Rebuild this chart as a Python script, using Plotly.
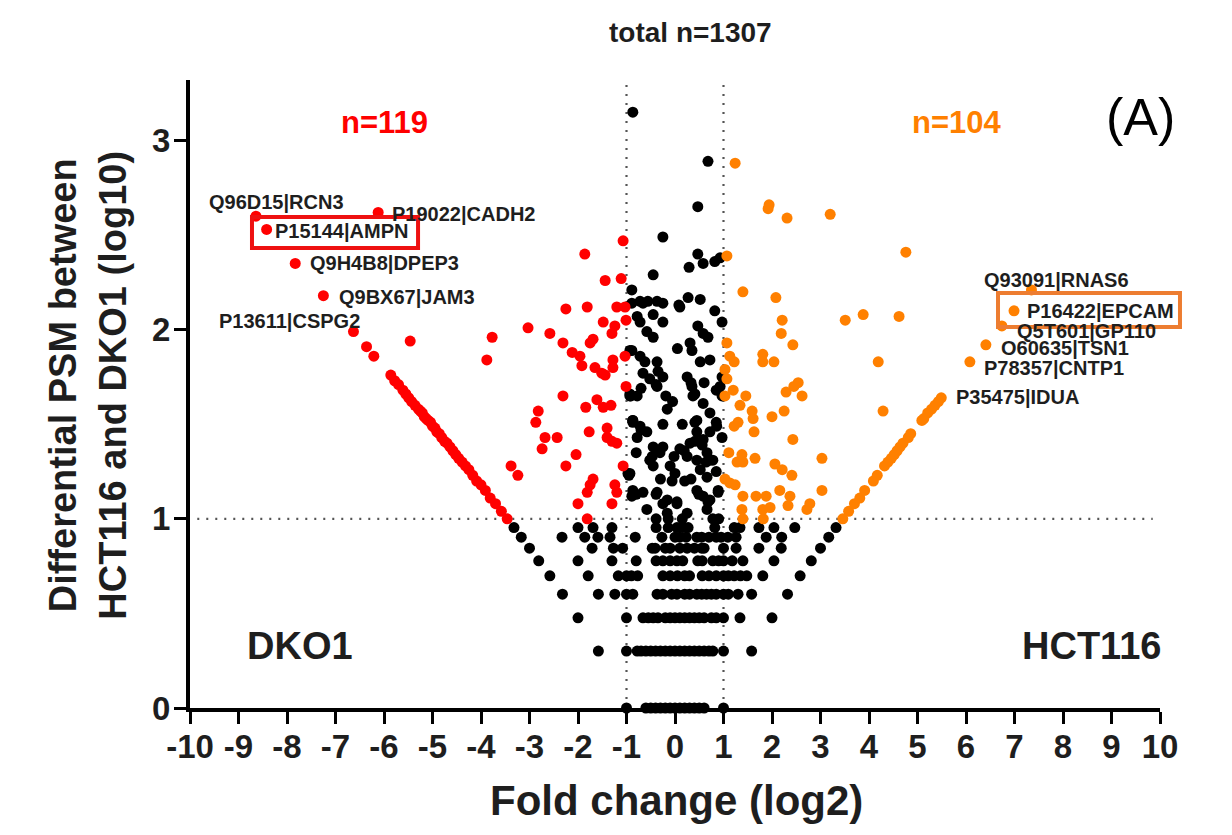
import plotly.graph_objects as go

# ---------------- data ----------------
# black points below the y=1 threshold: discrete y levels and the x positions on each level
low_levels = [0.0, 0.301, 0.477, 0.602, 0.699, 0.778, 0.845, 0.903, 0.954, 1.0]
low_rows_x = [
    [-1.0, -0.6, -0.5, -0.4, -0.3, -0.2, -0.1, 0.0, 0.1, 0.2, 0.3, 0.4, 0.5, 0.6, 1.0],
    [-1.58, -1.0, -0.78, -0.7, -0.6, -0.5, -0.4, -0.3, -0.2, -0.1, 0.0, 0.1, 0.2, 0.3, 0.4, 0.5, 0.6, 0.7, 0.78, 1.0, 1.58],
    [-2.0, -1.0, -0.66, -0.55, -0.45, -0.35, -0.2, -0.1, 0.0, 0.1, 0.2, 0.3, 0.4, 0.5, 0.6, 0.75, 0.85, 1.0, 1.34, 2.0],
    [-2.32, -1.58, -1.24, -1.0, -0.87, -0.37, -0.25, -0.07, 0.04, 0.2, 0.3, 0.45, 0.55, 0.65, 0.75, 0.85, 1.0, 1.1, 1.3, 1.58, 2.32],
    [-2.58, -1.79, -1.17, -1.0, -0.9, -0.77, -0.25, -0.1, 0.05, 0.2, 0.3, 0.56, 0.7, 0.85, 1.0, 1.1, 1.22, 1.35, 1.48, 1.81, 2.58],
    [-2.81, -2.0, -1.3, -0.8, -0.39, -0.25, -0.1, 0.04, 0.16, 0.47, 0.56, 0.78, 0.9, 1.0, 1.18, 1.4, 2.04, 2.81],
    [-3.0, -1.71, -1.27, -1.08, -0.47, -0.41, -0.2, -0.1, 0.1, 0.25, 0.4, 0.55, 0.6, 1.0, 1.26, 1.73, 2.19, 3.0],
    [-3.17, -2.33, -1.86, -1.59, -1.34, -0.82, -0.27, 0.0, 0.1, 0.23, 0.45, 0.55, 0.7, 0.85, 0.95, 1.09, 1.26, 1.88, 2.2, 3.17],
    [-3.32, -2.0, -1.69, -1.3, -0.39, -0.14, 0.04, 0.16, 0.27, 0.82, 1.22, 1.34, 1.73, 2.04, 2.47, 3.32],
    [-0.39, -0.14, 0.15, 0.78, 0.9],
]

# black points above the threshold (|fold change| < 1)
black_hi_x = [-0.87, 0.68, 0.47, -0.25, 0.47, 0.58, 0.82, 0.93, 0.29, -0.45, -0.89, -0.72, -0.56, -0.37, 0.08, 0.27, 0.52,
              -0.66, -0.25, 0.1, 0.82, -0.45, -0.72, -0.58, -0.45, -0.25, 0.47, 0.58, 0.68, 0.97,
              0.31, 0.35, -0.93, -0.72, -0.62, -0.37, -0.35, -0.25, 0.52, 0.72, -0.66, -0.52, -0.37, 0.25, 0.35, 0.37,
              -0.93, -0.78, -0.16, 0.97, 0.93, 0.97, 0.58, 0.72, -0.87, -0.72, -0.58, -0.25, 0.45, 0.45, 0.72, 0.86,
              -0.45, -0.31, 0.1, 0.25, 0.31, 0.58, 0.66, 0.72, -0.52, -0.45, -0.1, 0.0, -0.06, 0.45, 0.52, 0.66,
              -0.97, -0.87, -0.66, -0.37, -0.16, 0.04, 0.45, 0.58, 0.72, 0.89, -0.58, -0.16, 0.25, 0.66,
              -0.91, -0.70, -0.39, -0.19, 0.33, 0.41, 0.85, -0.87, -0.70, 0.41, 0.85, 0.97, -0.47, -0.25, -0.02, 0.19,
              0.41, 0.56, 0.64, 0.78, -0.95, -0.80, -0.39, -0.25, 0.04, 0.33, 0.49, 0.68, 0.89,
              -0.89, -0.78, -0.89, -0.93, -0.87, -0.78, -0.93, -0.89,
              0.15, -0.05, 0.2, -0.3, 0.6, -0.8, 0.85, 0.05]
black_hi_y = [3.15, 2.89, 2.65, 2.49, 2.40, 2.35, 2.36, 2.38, 2.33, 2.29, 2.21, 2.15, 2.15, 2.15, 2.13, 2.17, 2.16,
              2.14, 2.14, 2.12, 2.10, 2.08, 2.04, 1.99, 1.96, 2.04, 2.02, 1.98, 1.96, 2.04,
              1.93, 1.89, 1.89, 1.86, 1.83, 1.83, 1.78, 1.75, 1.83, 1.84, 1.77, 1.74, 1.70, 1.75, 1.70, 1.65,
              1.65, 1.65, 1.58, 1.75, 1.70, 1.65, 1.61, 1.56, 1.52, 1.49, 1.46, 1.50, 1.52, 1.46, 1.46, 1.49,
              1.38, 1.35, 1.37, 1.33, 1.40, 1.42, 1.35, 1.31, 1.31, 1.28, 1.28, 1.24, 1.20, 1.31, 1.26, 1.22,
              1.24, 1.15, 1.14, 1.14, 1.10, 1.08, 1.15, 1.12, 1.10, 1.15, 1.05, 1.03, 1.03, 1.05,
              1.65, 1.69, 1.71, 1.65, 1.72, 1.66, 1.68, 1.51, 1.47, 1.51, 1.51, 1.43, 1.33, 1.38, 1.33, 1.36,
              1.41, 1.39, 1.30, 1.31, 1.23, 1.13, 1.13, 1.08, 1.09, 1.21, 1.13, 1.09, 1.14,
              2.14, 2.07, 1.89, 1.66, 1.52, 1.43, 1.24, 1.12,
              1.50, 1.62, 1.20, 1.21, 1.72, 1.35, 1.25, 1.90]

# red points: higher in DKO1 (x < -1, y >= 1)
red_x = [-3.46, -3.58, -3.70, -3.81, -3.91, -4.00, -4.09, -4.17, -4.25, -4.32, -4.39, -4.46, -4.52, -4.58, -4.64,
         -4.70, -4.75, -4.81, -4.86, -4.91, -4.95, -5.00, -5.04, -5.09, -5.13, -5.17, -5.21, -5.25, -5.29, -5.36,
         -5.43, -5.49, -5.55, -5.61, -5.70, -5.78, -5.86, -6.21, -6.36, -6.63, -7.25, -7.83, -8.42, -8.64,
         -6.12, -5.46,
         -1.07, -1.86, -1.44, -1.11, -2.25, -1.81, -1.20, -1.03, -1.48, -1.24, -1.30, -1.01, -3.03, -3.77, -3.88,
         -2.58, -2.31, -1.69, -1.75, -2.12, -1.96, -1.92, -1.65, -1.51, -1.44, -1.28, -1.28, -1.03, -1.01, -2.31,
         -1.84, -1.61, -1.48, -1.32, -2.82, -2.87, -2.68, -2.43, -2.74, -2.04, -1.77, -1.40, -1.40, -1.30, -1.20,
         -3.38, -3.24, -2.25, -1.07, -1.69, -1.75, -1.81, -2.00, -1.24, -1.20, -1.30, -1.81]
red_y = [1.00, 1.04, 1.08, 1.11, 1.15, 1.18, 1.20, 1.23, 1.26, 1.28, 1.30, 1.32, 1.34, 1.36, 1.38,
         1.40, 1.41, 1.43, 1.45, 1.46, 1.48, 1.49, 1.51, 1.52, 1.53, 1.54, 1.56, 1.57, 1.58, 1.60,
         1.62, 1.64, 1.66, 1.68, 1.71, 1.73, 1.76, 1.86, 1.91, 1.99, 2.18, 2.35, 2.53, 2.60,
         2.62, 1.94,
         2.47, 2.40, 2.26, 2.27, 2.11, 2.12, 2.12, 2.12, 2.04, 2.02, 1.98, 2.05, 2.01, 1.96, 1.84,
         1.98, 1.93, 1.95, 1.93, 1.88, 1.86, 1.81, 1.80, 1.77, 1.76, 1.84, 1.80, 1.86, 1.70, 1.65,
         1.59, 1.63, 1.59, 1.60, 1.57, 1.51, 1.43, 1.43, 1.37, 1.34, 1.46, 1.48, 1.43, 1.41, 1.40,
         1.28, 1.23, 1.28, 1.28, 1.21, 1.18, 1.14, 1.08, 1.18, 1.14, 1.08, 1.00]

# orange points: higher in HCT116 (x > 1, y >= 1)
orange_x = [3.46, 3.58, 3.70, 3.81, 3.91, 4.09, 4.17, 4.32, 4.39, 4.46, 4.52, 4.58, 4.64, 4.70, 4.81, 4.86,
            5.09, 5.13, 5.21, 5.29, 5.36, 5.43, 5.49,
            6.08, 6.41, 6.74, 6.99, 7.35,
            1.24, 1.94, 1.92, 2.31, 3.20, 4.76, 1.07, 1.40, 2.08, 2.21, 2.19, 2.43, 1.81, 1.81, 2.04, 3.51,
            3.88, 4.62, 4.19,
            1.07, 1.13, 1.22, 1.03, 1.07, 1.03, 1.20, 1.46, 1.34, 1.59, 1.61, 1.22, 1.30, 1.63, 2.00, 2.25,
            2.29, 2.54, 2.62, 2.45, 2.43, 3.03, 4.29, 1.11, 1.38, 1.40, 1.28, 1.65, 1.03, 1.24, 1.13, 1.40,
            1.67, 1.88, 2.06, 2.21, 2.41, 2.16, 2.37, 2.33, 3.03, 2.78, 2.72, 1.38, 1.81, 1.96, 1.40, 1.82]
orange_y = [1.00, 1.04, 1.08, 1.11, 1.15, 1.20, 1.23, 1.28, 1.30, 1.32, 1.34, 1.36, 1.38, 1.40, 1.43, 1.45,
            1.52, 1.53, 1.56, 1.58, 1.60, 1.62, 1.64,
            1.83, 1.92, 2.02, 2.10, 2.21,
            2.88, 2.66, 2.64, 2.59, 2.61, 2.41, 2.39, 2.20, 2.17, 2.05, 1.98, 1.92, 1.87, 1.83, 1.83, 2.05,
            2.08, 2.07, 1.83,
            1.93, 1.86, 1.83, 1.79, 1.74, 1.65, 1.68, 1.65, 1.60, 1.57, 1.53, 1.49, 1.51, 1.46, 1.54, 1.57,
            1.67, 1.72, 1.65, 1.70, 1.42, 1.32, 1.57, 1.35, 1.34, 1.30, 1.30, 1.32, 1.21, 1.18, 1.19, 1.12,
            1.12, 1.12, 1.29, 1.26, 1.23, 1.15, 1.12, 1.07, 1.15, 1.08, 1.05, 1.05, 1.05, 1.06, 1.00, 1.00]

# labelled proteins
label_text = ["Q96D15|RCN3", "P19022|CADH2", "P15144|AMPN", "Q9H4B8|DPEP3", "Q9BX67|JAM3", "P13611|CSPG2",
              "Q93091|RNAS6", "P16422|EPCAM", "Q5T601|GP110", "O60635|TSN1", "P78357|CNTP1", "P35475|IDUA"]
label_x = [-9.65, -5.88, -8.29, -7.57, -6.97, -9.44, 6.33, 7.22, 7.01, 6.68, 6.33, 5.75]
label_y = [2.677, 2.614, 2.524, 2.354, 2.175, 2.048, 2.265, 2.101, 1.995, 1.905, 1.799, 1.646]

x_tick_vals = list(range(-10, 11))
x_tick_text = ["-10", "-9", "-8", "-7", "-6", "-5", "-4", "-3", "-2", "-1", "0",
               "1", "2", "3", "4", "5", "6", "7", "8", "9", "10"]
y_tick_vals = [0, 1, 2, 3]
y_tick_text = ["0", "1", "2", "3"]

# ---------------- figure ----------------
FONT = "Liberation Sans, Arial, Helvetica, sans-serif"
RED = "#ff0000"
ORANGE = "#ff8000"
TXT = "#1e1e1e"

black_x, black_y = [], []
for lvl, xs in zip(low_levels, low_rows_x):
    black_x += xs
    black_y += [lvl] * len(xs)
black_x += black_hi_x
black_y += black_hi_y

fig = go.Figure()
mk = dict(size=11, line=dict(width=0))
fig.add_trace(go.Scatter(x=black_x, y=black_y, mode="markers", marker=dict(color="black", **mk),
                         cliponaxis=False, showlegend=False, hoverinfo="skip"))
fig.add_trace(go.Scatter(x=red_x, y=red_y, mode="markers", marker=dict(color=RED, **mk),
                         cliponaxis=False, showlegend=False, hoverinfo="skip"))
fig.add_trace(go.Scatter(x=orange_x, y=orange_y, mode="markers", marker=dict(color=ORANGE, **mk),
                         cliponaxis=False, showlegend=False, hoverinfo="skip"))

# threshold lines
dot = dict(color="#555555", width=2.2, dash="2px,7px")
fig.add_shape(type="line", xref="x", yref="paper", x0=-1, x1=-1, y0=0, y1=1, line=dot, layer="below")
fig.add_shape(type="line", xref="x", yref="paper", x0=1, x1=1, y0=0, y1=1, line=dot, layer="below")
fig.add_shape(type="line", xref="x", yref="y", x0=-9.85, x1=9.85, y0=1, y1=1, line=dot, layer="below")

# highlight boxes (paper coordinates)
fig.add_shape(type="rect", xref="paper", yref="paper", x0=0.0639, x1=0.2351, y0=0.7325, y1=0.7818,
              line=dict(color="#ee1111", width=4), fillcolor="rgba(0,0,0,0)")
fig.add_shape(type="rect", xref="paper", yref="paper", x0=0.8330, x1=1.0206, y0=0.6067, y1=0.6608,
              line=dict(color="#ed7d31", width=4), fillcolor="rgba(0,0,0,0)")

ann = []
for t, lx, ly in zip(label_text, label_x, label_y):
    ann.append(dict(x=lx, y=ly, xref="x", yref="y", text=t, showarrow=False, xanchor="left", yanchor="middle",
                    font=dict(family=FONT, size=20, color=TXT, weight="bold")))
ann += [
    dict(x=0.5155, y=1.075, xref="paper", yref="paper", text="total n=1307", showarrow=False,
         xanchor="center", yanchor="middle",
         font=dict(family=FONT, size=28, color=TXT, weight="bold")),
    dict(x=-5.98, y=3.095, xref="x", yref="y", text="n=119", showarrow=False, xanchor="center", yanchor="middle",
         font=dict(family=FONT, size=31, color=RED, weight="bold")),
    dict(x=5.82, y=3.095, xref="x", yref="y", text="n=104", showarrow=False, xanchor="center", yanchor="middle",
         font=dict(family=FONT, size=31, color=ORANGE, weight="bold")),
    dict(x=9.59, y=3.127, xref="x", yref="y", text="(A)", showarrow=False, xanchor="center", yanchor="middle",
         font=dict(family=FONT, size=52, color="black")),
    dict(x=-7.73, y=0.328, xref="x", yref="y", text="DKO1", showarrow=False, xanchor="center", yanchor="middle",
         font=dict(family=FONT, size=38, color=TXT, weight="bold")),
    dict(x=8.58, y=0.328, xref="x", yref="y", text="HCT116", showarrow=False, xanchor="center", yanchor="middle",
         font=dict(family=FONT, size=38, color=TXT, weight="bold")),
    dict(x=0.502, y=-0.1465, xref="paper", yref="paper", text="Fold change (log2)", showarrow=False,
         xanchor="center", yanchor="middle",
         font=dict(family=FONT, size=42, color=TXT, weight="bold")),
    dict(x=-0.1057, y=0.514, xref="paper", yref="paper", textangle=-90, xanchor="center", yanchor="middle",
         text="Differential PSM between<br>HCT116 and DKO1 (log10)", showarrow=False,
         font=dict(family=FONT, size=38, color=TXT, weight="bold")),
]

# page body adds an 8px offset; size the figure so the plot area lands where the reference has it
fig.update_layout(
    width=1224, height=827,
    margin=dict(l=182, r=72, t=72, b=127),
    paper_bgcolor="white", plot_bgcolor="white",
    annotations=ann,
    xaxis=dict(range=[-10, 10], tickvals=x_tick_vals, ticktext=x_tick_text, showgrid=False, zeroline=False,
               showline=True, linecolor="black", linewidth=4, ticks="outside", ticklen=12, tickwidth=3,
               tickcolor="black", ticklabelstandoff=-6,
               tickfont=dict(family=FONT, size=33, color=TXT, weight="bold")),
    yaxis=dict(range=[0, 3.32], tickvals=y_tick_vals, ticktext=y_tick_text, showgrid=False, zeroline=False,
               showline=True, linecolor="black", linewidth=4, ticks="outside", ticklen=12, tickwidth=3,
               tickcolor="black", ticklabelstandoff=-3,
               tickfont=dict(family=FONT, size=33, color=TXT, weight="bold")),
)

fig.write_html("out.html")
